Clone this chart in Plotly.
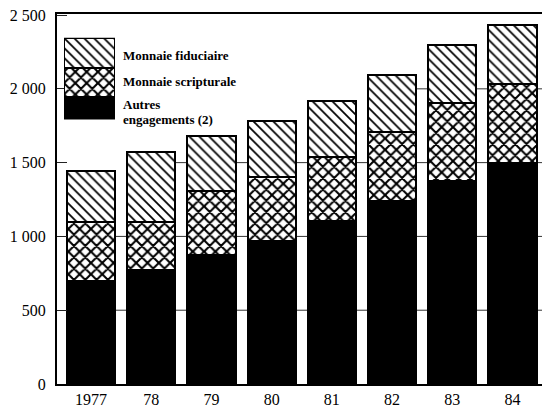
import plotly.graph_objects as go

# Passif monétaire, 1977-1984
annees = ["1977", "78", "79", "80", "81", "82", "83", "84"]
autres_engagements = [695, 775, 875, 970, 1105, 1240, 1375, 1495]
monnaie_scripturale = [400, 325, 430, 430, 435, 470, 530, 535]
monnaie_fiduciaire = [345, 470, 375, 380, 380, 385, 395, 405]

y_ticks = [0, 500, 1000, 1500, 2000, 2500]
y_tick_labels = ["0", "500", "1 000", "1 500", "2 000", "2 500"]
grid_levels = [500, 1000, 1500, 2000]

noms = ["Autres engagements (2)", "Monnaie scripturale", "Monnaie fiduciaire"]

SERIF = "Liberation Serif, Times New Roman, serif"
W, H = 542, 408
ML, MR, MT, MB = 57, 0, 14, 22
PW, PH = W - ML - MR, H - MT - MB
BARGAP = 0.2
X_RANGE = [-0.565, 7.49]

def px_x(x):
    return (x - ML) / PW

def px_y(y):
    return (H - MB - y) / PH

line = dict(color="black", width=2)
styles = [
    dict(color="black", line=line),
    dict(color="white", line=line,
         pattern=dict(shape="x", fgcolor="black", bgcolor="white",
                      size=8, solidity=0.45, fillmode="replace")),
    dict(color="white", line=line,
         pattern=dict(shape="\\", fgcolor="black", bgcolor="white",
                      size=7, solidity=0.25, fillmode="replace")),
]

xpos = list(range(len(annees)))
series = [autres_engagements, monnaie_scripturale, monnaie_fiduciaire]
fig = go.Figure()
for nom, vals, st in zip(noms, series, styles):
    fig.add_trace(go.Bar(x=xpos, y=vals, name=nom, marker=st, showlegend=False,
                         hoverinfo="y"))

# Legend key drawn as a small stacked column on its own axes
key_heights = [23, 29, 30]
for nom, h, st in zip(noms, key_heights, styles):
    fig.add_trace(go.Bar(x=[0], y=[h], width=[1], name=nom, marker=st,
                         showlegend=False, xaxis="x2", yaxis="y2", hoverinfo="skip"))

# Reference lines only show in the gaps between two columns that both reach the level
totals = [sum(v) for v in zip(*series)]
half = (1 - BARGAP) / 2
grid_style = dict(color="#333", width=1)
for i in range(len(totals)):
    right_top = totals[i + 1] if i + 1 < len(totals) else float("inf")
    x0 = i + half
    x1 = i + 1 - half if i + 1 < len(totals) else X_RANGE[1]
    for lvl in grid_levels:
        if lvl < min(totals[i], right_top):
            fig.add_shape(type="line", xref="x", yref="y", x0=x0, x1=x1,
                          y0=lvl, y1=lvl, line=grid_style, layer="below")

fig.update_layout(
    width=W, height=H,
    margin=dict(l=ML, r=MR, t=MT, b=MB, pad=0),
    paper_bgcolor="white", plot_bgcolor="white",
    barmode="stack", bargap=BARGAP,
    font=dict(family=SERIF, color="black", size=16),
    xaxis=dict(
        range=X_RANGE, tickmode="array", tickvals=xpos, ticktext=annees,
        showgrid=False, zeroline=False, showline=True, linecolor="black",
        linewidth=2, mirror=True, ticks="", tickfont=dict(size=16),
    ),
    yaxis=dict(
        range=[0, 2507], tickmode="array", tickvals=y_ticks, ticktext=y_tick_labels,
        showgrid=False, zeroline=False,
        showline=True, linecolor="black", linewidth=2,
        ticks="inside", ticklen=10, tickwidth=1.2, tickcolor="#222",
        tickfont=dict(size=16), ticklabelstandoff=6,
    ),
    xaxis2=dict(domain=[px_x(64), px_x(115)], range=[-0.5, 0.5], anchor="y2",
                visible=False, fixedrange=True),
    yaxis2=dict(domain=[px_y(120), px_y(38)], range=[0, sum(key_heights)],
                anchor="x2", visible=False, fixedrange=True),
    showlegend=False,
)

lab = dict(xref="paper", yref="paper", xanchor="left", yanchor="middle",
           showarrow=False, borderpad=0,
           font=dict(family=SERIF, size=13, color="black"))
fig.add_annotation(x=px_x(122), y=px_y(56), text="<b>Monnaie fiduciaire</b>", **lab)
fig.add_annotation(x=px_x(122), y=px_y(82), text="<b>Monnaie scripturale</b>", **lab)
fig.add_annotation(x=px_x(122), y=px_y(105), text="<b>Autres</b>", **lab)
fig.add_annotation(x=px_x(122), y=px_y(120), text="<b>engagements (2)</b>", **lab)

fig.write_html("out.html")
